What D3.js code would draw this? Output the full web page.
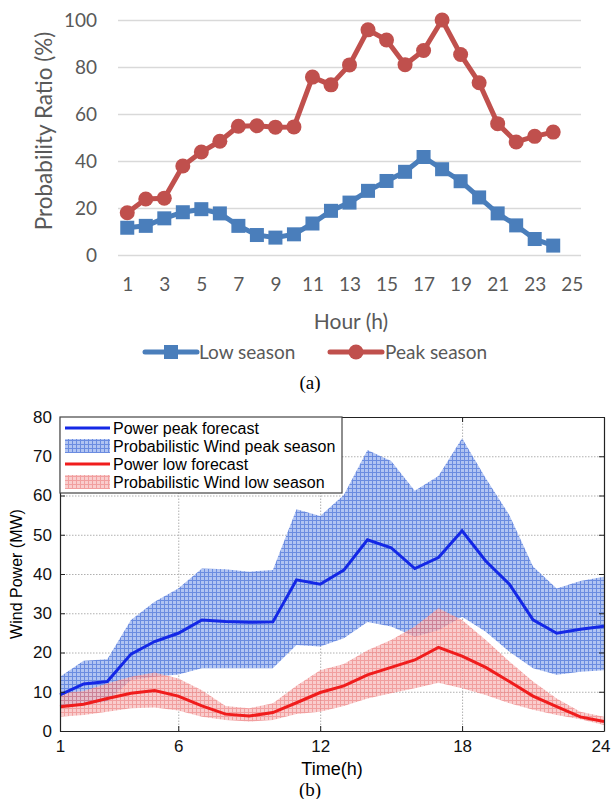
<!DOCTYPE html>
<html>
<head>
<meta charset="utf-8">
<script src="https://cdn.jsdelivr.net/npm/d3@7"></script>
<style>
  body { margin: 0; background: #fff; }
  svg { display: block; }
</style>
</head>
<body>
<div id="display"></div>
<script>
// ---- data, chart (a) ----
const hours = d3.range(1, 25);
const hourCategories = d3.range(1, 26);
const hourTickLabels = [1, 3, 5, 7, 9, 11, 13, 15, 17, 19, 21, 23, 25];
const ratioTicks = [0, 20, 40, 60, 80, 100];
const lowSeason = [11.6, 12.4, 15.6, 18.2, 19.5, 17.7, 12.4, 8.5, 7.4, 8.8, 13.4, 18.8,
                   22.3, 27.3, 31.5, 35.4, 41.7, 36.5, 31.4, 24.5, 17.7, 12.6, 6.8, 4.0];
const peakSeason = [18, 23.8, 24.2, 37.9, 43.8, 48.4, 54.8, 55, 54.4, 54.5, 75.7, 72.4,
                    80.9, 95.8, 91.5, 81, 87, 100, 85.3, 73.3, 55.9, 48.1, 50.5, 52.3];

// ---- data, chart (b) ----
const timeTicks = [1, 6, 12, 18, 24];
const powerTicks = [0, 10, 20, 30, 40, 50, 60, 70, 80];
const peakForecast = [9.2, 12.0, 12.6, 19.6, 22.8, 24.9, 28.3, 27.9, 27.7, 27.8, 38.5, 37.4,
                      41.0, 48.7, 46.7, 41.4, 44.2, 51.0, 43.3, 37.4, 28.3, 24.9, 25.9, 26.7];
const peakUpper = [13.8, 17.9, 18.3, 28.3, 32.9, 36.3, 41.4, 41.2, 40.6, 41.0, 56.5, 54.8,
                   60.1, 71.6, 68.8, 61.2, 65.0, 74.6, 64.4, 55.0, 41.9, 36.3, 38.2, 39.3];
const peakLower = [5.9, 6.6, 7.5, 13.0, 13.8, 14.4, 16.0, 16.0, 16.0, 16.0, 21.9, 21.5,
                   23.6, 27.8, 26.6, 24.0, 25.7, 29.1, 25.3, 20.2, 16.0, 14.3, 15.1, 15.5];
const lowForecast = [6.2, 6.8, 8.3, 9.6, 10.3, 8.9, 6.4, 4.3, 3.8, 4.7, 7.2, 9.8,
                     11.5, 14.3, 16.2, 18.1, 21.3, 19.1, 16.2, 12.6, 8.9, 6.2, 3.6, 2.4];
const lowUpper = [9.6, 10.2, 12.1, 13.8, 14.9, 13.4, 10.4, 6.4, 5.8, 7.1, 11.5, 15.5,
                  17.1, 20.6, 23.2, 26.6, 31.3, 28.3, 23.2, 17.7, 12.6, 8.3, 4.9, 3.6];
const lowLower = [3.6, 4.1, 4.9, 5.8, 6.0, 5.2, 3.6, 2.8, 2.4, 2.8, 4.3, 4.9,
                  6.4, 8.3, 9.6, 10.9, 12.3, 10.9, 9.2, 7.1, 5.4, 4.1, 3.0, 1.5];

const W = 611, H = 799;
const svg = d3.select("#display").append("svg").attr("width", W).attr("height", H);

// ================= chart (a) =================
const excelFont = "Lato, 'Open Sans', sans-serif";
const gray = "#595959";
const lowColor = "#4a7ebb";
const peakColor = "#c0504d";

const xA = d3.scalePoint().domain(hourCategories).range([118, 581]).padding(0.5);
const yA = d3.scaleLinear().domain([0, 100]).range([255, 20]);

const gridA = svg.append("g").attr("transform", "translate(118,0)")
  .call(d3.axisLeft(yA).tickValues(ratioTicks).tickSize(-463).tickPadding(21));
gridA.select(".domain").remove();
gridA.selectAll(".tick line").attr("stroke", "#d9d9d9").attr("stroke-width", 1.5);
gridA.selectAll(".tick text").attr("fill", gray).style("font-family", excelFont).style("font-size", "19px");

const axisXA = svg.append("g").attr("transform", "translate(0,255)")
  .call(d3.axisBottom(xA).tickValues(hourTickLabels).tickSize(0).tickPadding(23));
axisXA.select(".domain").remove();
axisXA.selectAll(".tick text").attr("fill", gray).style("font-family", excelFont).style("font-size", "19px");

svg.append("text").attr("transform", "translate(52,131) rotate(-90)")
  .attr("text-anchor", "middle").attr("fill", gray)
  .style("font-family", excelFont).style("font-size", "22.5px")
  .text("Probability Ratio (%)");
svg.append("text").attr("x", 351).attr("y", 329).attr("text-anchor", "middle").attr("fill", gray)
  .style("font-family", excelFont).style("font-size", "21px").text("Hour (h)");

const lineA = data => d3.line().x((d, i) => xA(hours[i])).y(d => yA(d))(data);

svg.append("path").attr("d", lineA(lowSeason)).attr("fill", "none")
  .attr("stroke", lowColor).attr("stroke-width", 5).attr("stroke-linejoin", "round");
svg.append("g").selectAll("rect").data(lowSeason).join("rect")
  .attr("x", (d, i) => xA(hours[i]) - 7).attr("y", d => yA(d) - 7)
  .attr("width", 14).attr("height", 14).attr("fill", lowColor);

svg.append("path").attr("d", lineA(peakSeason)).attr("fill", "none")
  .attr("stroke", peakColor).attr("stroke-width", 5).attr("stroke-linejoin", "round");
svg.append("g").selectAll("circle").data(peakSeason).join("circle")
  .attr("cx", (d, i) => xA(hours[i])).attr("cy", d => yA(d)).attr("r", 7.5).attr("fill", peakColor);

// legend (a)
const legA = svg.append("g").style("font-family", excelFont).style("font-size", "19px");
legA.append("line").attr("x1", 145).attr("x2", 197).attr("y1", 352).attr("y2", 352)
  .attr("stroke", lowColor).attr("stroke-width", 5).attr("stroke-linecap", "round");
legA.append("rect").attr("x", 164).attr("y", 345).attr("width", 14).attr("height", 14).attr("fill", lowColor);
legA.append("text").attr("x", 199).attr("y", 359).attr("fill", gray).text("Low season");
legA.append("line").attr("x1", 330).attr("x2", 382).attr("y1", 352).attr("y2", 352)
  .attr("stroke", peakColor).attr("stroke-width", 5).attr("stroke-linecap", "round");
legA.append("circle").attr("cx", 356).attr("cy", 352).attr("r", 7.5).attr("fill", peakColor);
legA.append("text").attr("x", 385).attr("y", 359).attr("fill", gray).text("Peak season");

svg.append("text").attr("x", 310).attr("y", 389).attr("text-anchor", "middle")
  .style("font-family", "'Liberation Serif', serif").style("font-size", "19px").text("(a)");

// ================= chart (b) =================
const matFont = "'Liberation Sans', Arial, sans-serif";
const pLeft = 60, pRight = 604, pTop = 417, pBottom = 731;
const xB = d3.scaleLinear().domain([1, 24]).range([pLeft, pRight]);
const yB = d3.scaleLinear().domain([0, 80]).range([pBottom, pTop]);

const defs = svg.append("defs");
function hatch(id, bg, line) {
  const p = defs.append("pattern").attr("id", id).attr("patternUnits", "userSpaceOnUse")
    .attr("width", 4).attr("height", 4);
  p.append("rect").attr("width", 4).attr("height", 4).attr("fill", bg);
  p.append("path").attr("d", "M0,0.5H4M0.5,0V4").attr("stroke", line).attr("stroke-width", 1);
}
hatch("hatchBlue", "#a8bdf0", "#5a7fdc");
hatch("hatchRed", "#f7bcbc", "#ec7f7f");

// grid
const gridBy = svg.append("g").attr("transform", `translate(${pLeft},0)`)
  .call(d3.axisLeft(yB).tickValues(powerTicks.slice(1, -1)).tickSize(-(pRight - pLeft)).tickFormat(""));
const gridBx = svg.append("g").attr("transform", `translate(0,${pBottom})`)
  .call(d3.axisBottom(xB).tickValues(timeTicks.slice(1, -1)).tickSize(-(pBottom - pTop)).tickFormat(""));
[gridBy, gridBx].forEach(g => {
  g.select(".domain").remove();
  g.selectAll(".tick line").attr("stroke", "#b0b0b0").attr("stroke-dasharray", "1.5,1.5");
});

const area = (lo, hi) => d3.area().x((d, i) => xB(hours[i])).y0((d, i) => yB(lo[i])).y1(d => yB(d))(hi);
svg.append("path").attr("d", area(peakLower, peakUpper)).attr("fill", "url(#hatchBlue)").attr("opacity", 0.9);
svg.append("path").attr("d", area(lowLower, lowUpper)).attr("fill", "url(#hatchRed)").attr("opacity", 0.75);

const lineB = data => d3.line().x((d, i) => xB(hours[i])).y(d => yB(d))(data);
svg.append("path").attr("d", lineB(peakForecast)).attr("fill", "none")
  .attr("stroke", "#1428e6").attr("stroke-width", 3);
svg.append("path").attr("d", lineB(lowForecast)).attr("fill", "none")
  .attr("stroke", "#f01c1c").attr("stroke-width", 3);

// axes with inward ticks
const axL = svg.append("g").attr("transform", `translate(${pLeft},0)`)
  .call(d3.axisLeft(yB).tickValues(powerTicks).tickSizeInner(-5).tickSizeOuter(0).tickPadding(8));
const axR = svg.append("g").attr("transform", `translate(${pRight},0)`)
  .call(d3.axisRight(yB).tickValues(powerTicks).tickSizeInner(-5).tickSizeOuter(0).tickFormat(""));
const axBm = svg.append("g").attr("transform", `translate(0,${pBottom})`)
  .call(d3.axisBottom(xB).tickValues(timeTicks).tickSizeInner(-5).tickSizeOuter(0).tickPadding(9));
const axT = svg.append("g").attr("transform", `translate(0,${pTop})`)
  .call(d3.axisTop(xB).tickValues(timeTicks).tickSizeInner(-5).tickSizeOuter(0).tickFormat(""));
[axL, axR, axBm, axT].forEach(g => {
  g.select(".domain").attr("stroke", "#222").attr("stroke-width", 1.2);
  g.selectAll(".tick line").attr("stroke", "#222");
  g.selectAll(".tick text").attr("fill", "#111").style("font-family", matFont).style("font-size", "17px");
});
// keep the last label inside the page
axBm.selectAll(".tick text").filter(d => d === 24).attr("text-anchor", "end").attr("dx", 6);

svg.append("text").attr("transform", "translate(22,574) rotate(-90)").attr("text-anchor", "middle")
  .style("font-family", matFont).style("font-size", "16px").text("Wind Power (MW)");
svg.append("text").attr("x", 332).attr("y", 775).attr("text-anchor", "middle")
  .style("font-family", matFont).style("font-size", "18px").text("Time(h)");
svg.append("text").attr("x", 310).attr("y", 796).attr("text-anchor", "middle")
  .style("font-family", "'Liberation Serif', serif").style("font-size", "19px").text("(b)");

// legend (b)
const legB = svg.append("g").style("font-family", matFont).style("font-size", "16px");
legB.append("rect").attr("x", pLeft).attr("y", pTop).attr("width", 282).attr("height", 76)
  .attr("fill", "#fff").attr("stroke", "#444").attr("stroke-width", 1.2);
const legItems = [
  { label: "Power peak forecast", type: "line", color: "#1428e6" },
  { label: "Probabilistic Wind peak season", type: "patch", fill: "url(#hatchBlue)", op: 0.9 },
  { label: "Power low forecast", type: "line", color: "#f01c1c" },
  { label: "Probabilistic Wind low season", type: "patch", fill: "url(#hatchRed)", op: 0.75 }
];
legItems.forEach((d, i) => {
  const cy = 428 + i * 18;
  if (d.type === "line") {
    legB.append("line").attr("x1", 65).attr("x2", 110).attr("y1", cy).attr("y2", cy)
      .attr("stroke", d.color).attr("stroke-width", 3);
  } else {
    legB.append("rect").attr("x", 65).attr("y", cy - 7).attr("width", 45).attr("height", 14)
      .attr("fill", d.fill).attr("opacity", d.op);
  }
  legB.append("text").attr("x", 113).attr("y", cy + 5.5).text(d.label);
});
</script>
</body>
</html>
